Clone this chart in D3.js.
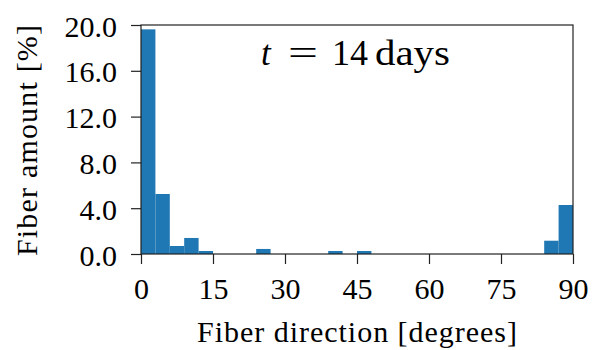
<!DOCTYPE html>
<html><head><meta charset="utf-8">
<script src="https://cdn.jsdelivr.net/npm/d3@7"></script>
<style>body{margin:0;background:#fff}svg{display:block}
svg text{font-family:"Liberation Serif","Times New Roman",Times,serif !important}</style>
</head><body>
<script>
const binStarts = [0,3,6,9,12,15,18,21,24,27,30,33,36,39,42,45,48,51,54,57,60,63,66,69,72,75,78,81,84,87];
const binWidth = 3;
const amounts = [19.62,5.24,0.70,1.40,0.26,0,0,0,0.44,0,0,0,0,0.26,0,0.26,0,0,0,0,0,0,0,0,0,0,0,0,1.16,4.28];
const xTicks = [0,15,30,45,60,75,90];
const yTicks = [0,4,8,12,16,20];

const W = 593, H = 350;
const svg = d3.select("body").append("svg").attr("width", W).attr("height", H);
const x = d3.scaleLinear().domain([0,90]).range([141,573]);
const y = d3.scaleLinear().domain([0,20]).range([254,25]);
const fs = 30;

svg.append("g").selectAll("rect").data(binStarts).join("rect")
  .attr("x", (d)=>x(d))
  .attr("width", (d)=>x(d+binWidth)-x(d))
  .attr("y", (d,i)=>y(amounts[i]))
  .attr("height", (d,i)=>y(0)-y(amounts[i]))
  .attr("fill", "#1f77b4");

const xAxis = svg.append("g").attr("transform", "translate(0,254)")
  .call(d3.axisBottom(x).tickValues(xTicks).tickSize(10).tickPadding(8).tickFormat(d3.format("d")));
const yAxis = svg.append("g").attr("transform", "translate(141,0)")
  .call(d3.axisLeft(y).tickValues(yTicks).tickSize(10).tickPadding(14).tickFormat(d3.format(".1f")));
[xAxis, yAxis].forEach(g => {
  g.select(".domain").remove();
  g.selectAll("line").attr("stroke", "#222").attr("stroke-width", 1.2);
  g.selectAll("text").attr("font-size", fs).attr("fill", "#000");
});
xAxis.selectAll("text").attr("y", 45).attr("dy", 0);
yAxis.selectAll("text").attr("dy", 11);

svg.append("rect").attr("x", x(0)).attr("y", y(20))
  .attr("width", x(90)-x(0)).attr("height", y(0)-y(20))
  .attr("fill", "none").attr("stroke", "#222").attr("stroke-width", 1.2);

const title = svg.append("text").attr("y", 65).attr("font-size", 35);
title.append("tspan").attr("x", 261).attr("font-style", "italic").text("t");
title.append("tspan").attr("x", 288).attr("textLength", 30).attr("lengthAdjust", "spacingAndGlyphs").text("=");
title.append("tspan").attr("x", 332).attr("textLength", 36).attr("lengthAdjust", "spacingAndGlyphs").text("14");
title.append("tspan").attr("x", 375).attr("textLength", 75).attr("lengthAdjust", "spacingAndGlyphs").text("days");

svg.append("text").attr("x", 197).attr("y", 342)
  .attr("font-size", fs).attr("textLength", 320).attr("lengthAdjust", "spacing").text("Fiber direction [degrees]");
svg.append("text").attr("transform", "translate(37,256) rotate(-90)")
  .attr("font-size", fs).attr("textLength", 231).attr("lengthAdjust", "spacing").text("Fiber amount [%]");
</script>
</body></html>
